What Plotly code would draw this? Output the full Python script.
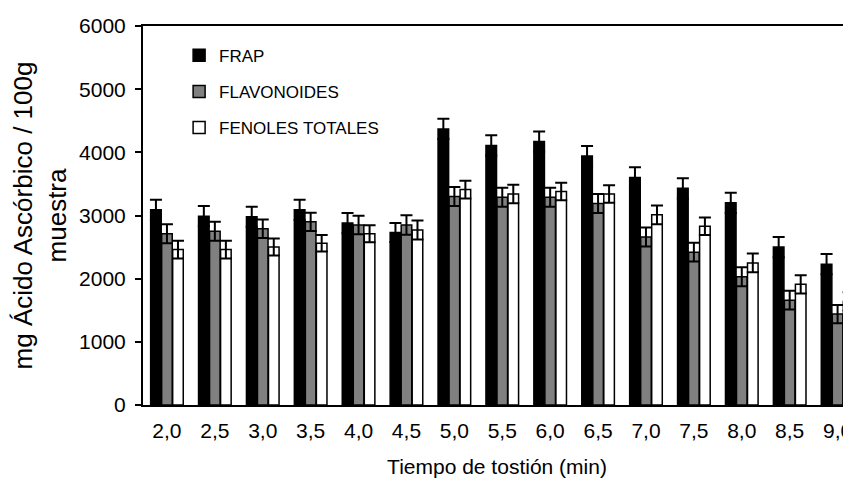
import plotly.graph_objects as go

categories = ["2,0", "2,5", "3,0", "3,5", "4,0", "4,5", "5,0", "5,5", "6,0", "6,5", "7,0", "7,5", "8,0", "8,5", "9,0"]

frap = [3090, 2990, 2980, 3090, 2880, 2730, 4370, 4110, 4170, 3940, 3600, 3430, 3200, 2500, 2230]
frap_err = [160, 160, 160, 160, 160, 150, 160, 160, 160, 160, 165, 160, 160, 160, 160]

flavonoides = [2710, 2750, 2790, 2900, 2850, 2850, 3300, 3290, 3290, 3190, 2660, 2420, 2030, 1660, 1440]
flavonoides_err = [150, 150, 145, 145, 145, 155, 150, 150, 150, 150, 150, 150, 150, 150, 145]

fenoles = [2460, 2460, 2500, 2560, 2710, 2770, 3410, 3340, 3380, 3340, 3010, 2830, 2250, 1910, 1640]
fenoles_err = [140, 140, 135, 130, 135, 150, 140, 145, 140, 140, 150, 140, 150, 145, 145]

series = [
    ("FRAP", frap, frap_err, "#000000"),
    ("FLAVONOIDES", flavonoides, flavonoides_err, "#808080"),
    ("FENOLES TOTALES", fenoles, fenoles_err, "#ffffff"),
]

font_family = "Arial, Liberation Sans, sans-serif"

fig = go.Figure()
for i, (name, vals, errs, color) in enumerate(series):
    fig.add_trace(go.Bar(
        name=name,
        x=categories,
        y=vals,
        legendgroup=f"g{i}",
        marker=dict(color=color, line=dict(color="#000000", width=1.5)),
        error_y=dict(type="data", array=errs, visible=True, color="#000000", thickness=2, width=6),
    ))

fig.update_layout(
    width=843,
    height=477,
    margin=dict(l=135, r=0, t=18, b=80),
    paper_bgcolor="#ffffff",
    plot_bgcolor="#ffffff",
    barmode="group",
    bargap=0.31,
    bargroupgap=0.04,
    font=dict(family=font_family, size=21, color="#000000"),
    showlegend=True,
    legend=dict(
        x=0.051, y=0.969, xanchor="left", yanchor="top",
        font=dict(size=17, color="#000000"),
        bgcolor="rgba(255,255,255,0)",
        traceorder="grouped",
        tracegroupgap=11,
    ),
    xaxis=dict(
        type="category",
        range=[-0.5, 14.28],
        automargin=False,
        showline=True, linecolor="#000000", linewidth=2, mirror=True,
        ticks="", showgrid=False, zeroline=False,
        tickfont=dict(size=21),
        ticklabelstandoff=6,
        title=dict(text="Tiempo de tostión (min)", font=dict(size=21), standoff=18),
    ),
    yaxis=dict(
        range=[0, 6000],
        automargin=False,
        tickvals=[0, 1000, 2000, 3000, 4000, 5000, 6000],
        showline=True, linecolor="#000000", linewidth=2,
        ticks="outside", ticklen=6, tickwidth=1.5, tickcolor="#000000",
        showgrid=False, zeroline=False,
        tickfont=dict(size=21),
        ticklabelstandoff=5,
        title=dict(text="mg Ácido Ascórbico / 100g<br>muestra", font=dict(size=26), standoff=18),
    ),
)

fig.write_html("out.html")
